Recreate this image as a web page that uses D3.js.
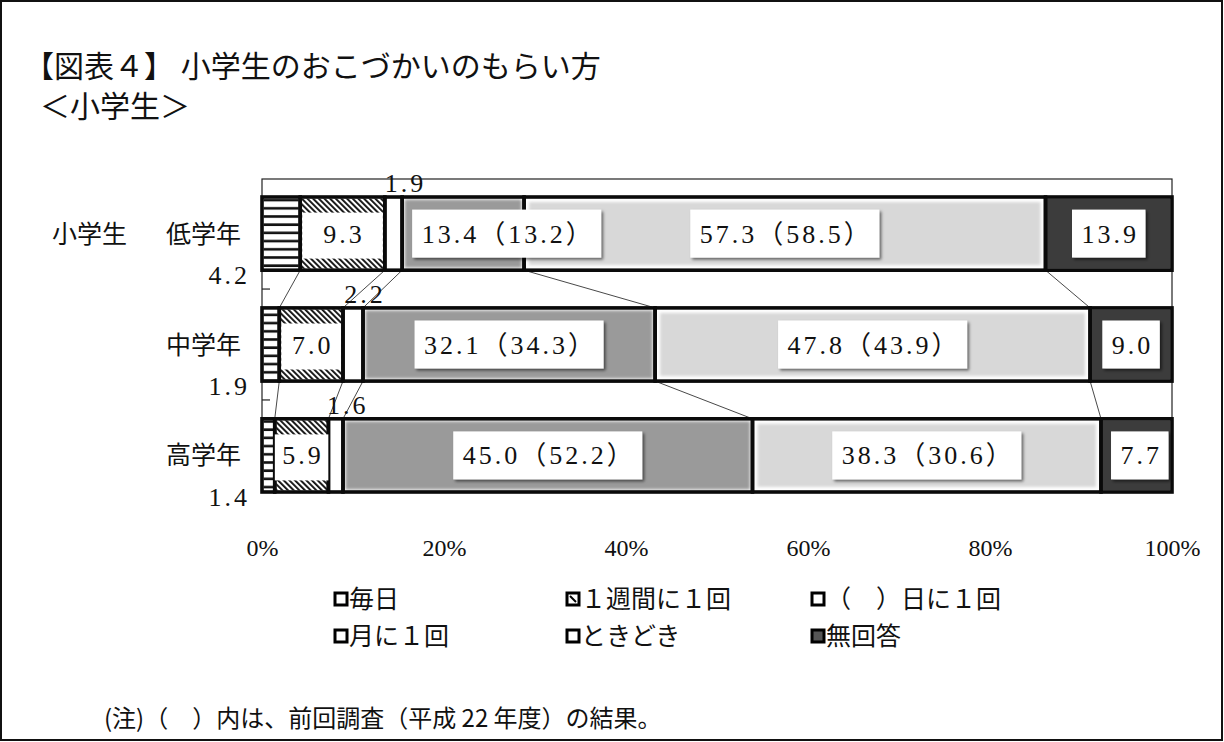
<!DOCTYPE html>
<html><head><meta charset="utf-8">
<script src="https://cdn.jsdelivr.net/npm/d3@7"></script>
<style>body{margin:0;background:#fff}</style>
</head><body><svg id="c" width="1224" height="742"></svg>
<script>
// ---- data ----
const categories = ["低学年", "中学年", "高学年"];
const seriesNames = ["毎日", "１週間に１回", "（　）日に１回", "月に１回", "ときどき", "無回答"];
const daily = [4.2, 1.9, 1.4];
const weekly = [9.3, 7.0, 5.9];
const everyFewDays = [1.9, 2.2, 1.6];
const monthly = [13.4, 32.1, 45.0];
const sometimes = [57.3, 47.8, 38.3];
const noAnswer = [13.9, 9.0, 7.7];
const monthlyPrev = [13.2, 34.3, 52.2];
const sometimesPrev = [58.5, 43.9, 30.6];
const xTicks = [0, 20, 40, 60, 80, 100];
const titleText = "【図表４】 小学生のおこづかいのもらい方";
const subtitleText = "＜小学生＞";
const groupLabel = "小学生";
const noteText = "(注)（　）内は、前回調査（平成 22 年度）の結果。";

const SERIF = "'Liberation Serif','Noto Sans CJK JP',serif";
const JP = "'Noto Sans CJK JP','Noto Sans',sans-serif";

const svg = d3.select("#c");
const fmt = d3.format(".1f");

const x = d3.scaleLinear().domain([0, 100]).range([262, 1172]);
const y = d3.scaleBand().domain(categories).range([197, 492]).paddingInner(0.34);
const bw = y.bandwidth();

// defs
const defs = svg.append("defs");
const hs = defs.append("pattern").attr("id", "hs").attr("patternUnits", "userSpaceOnUse")
  .attr("width", 8).attr("height", 8.2);
hs.append("rect").attr("width", 8).attr("height", 8.2).attr("fill", "#fff");
hs.append("rect").attr("y", 2).attr("width", 8).attr("height", 2.6).attr("fill", "#111");
const hatch = defs.append("pattern").attr("id", "hatch").attr("patternUnits", "userSpaceOnUse")
  .attr("width", 4).attr("height", 4).attr("patternTransform", "rotate(-45)");
hatch.append("rect").attr("width", 4).attr("height", 4).attr("fill", "#fff");
hatch.append("rect").attr("width", 1.9).attr("height", 4).attr("fill", "#111");
const blur = defs.append("filter").attr("id", "blur").attr("x", "-5%").attr("y", "-10%").attr("width", "110%").attr("height", "120%");
blur.append("feGaussianBlur").attr("stdDeviation", 1.6);
const shadow = defs.append("filter").attr("id", "shadow").attr("x", "-10%").attr("y", "-20%").attr("width", "130%").attr("height", "150%");
shadow.append("feDropShadow").attr("dx", 2).attr("dy", 2).attr("stdDeviation", 1.6)
  .attr("flood-color", "#000").attr("flood-opacity", 0.55);

// outer frame
svg.append("rect").attr("x", 1).attr("y", 1).attr("width", 1221).attr("height", 739)
  .attr("fill", "#fff").attr("stroke", "#111").attr("stroke-width", 2);

// titles
svg.append("text").attr("x", 24).attr("y", 77).attr("font-family", JP).attr("font-size", 30)
  .attr("fill", "#111").text(titleText);
svg.append("text").attr("x", 40).attr("y", 117).attr("font-family", JP).attr("font-size", 30)
  .attr("fill", "#111").text(subtitleText);

// plot frame
const frameTop = 179;
svg.append("rect").attr("x", x(0)).attr("y", frameTop).attr("width", x(100) - x(0))
  .attr("height", y.range()[1] - frameTop).attr("fill", "none").attr("stroke", "#222").attr("stroke-width", 1.2);
// inner category ticks
const step = y.step();
for (let i = 0; i < categories.length - 1; i++) {
  const ty = y(categories[i]) + bw + (step - bw) / 2;
  svg.append("line").attr("x1", x(0)).attr("x2", x(0) + 8).attr("y1", ty).attr("y2", ty)
    .attr("stroke", "#222").attr("stroke-width", 1.2);
}

// stacked data
const seriesVals = [daily, weekly, everyFewDays, monthly, sometimes, noAnswer];
const rows = categories.map((c, i) => {
  let acc = 0;
  const segs = seriesVals.map((arr, k) => {
    const s = { k, v: arr[i], x0: acc, x1: acc + arr[i], cat: c, i };
    acc += arr[i];
    return s;
  });
  segs[segs.length - 1].x1 = 100;
  return segs;
});

const fillSpec = [
  { fill: "url(#hs)", inset: 1.5 },
  { fill: "url(#hatch)", inset: 1.5 },
  { fill: "#fff", inset: 1.5 },
  { fill: "#9a9a9a", inset: 2.5, blur: true },
  { fill: "#d8d8d8", inset: 5, blur: true },
  { fill: "#3c3c3c", inset: 1.5 }
];

const gBars = svg.append("g");
rows.forEach(segs => {
  segs.forEach(s => {
    const X0 = x(s.x0), X1 = x(s.x1), Y0 = y(s.cat);
    gBars.append("rect").attr("x", X0).attr("y", Y0).attr("width", X1 - X0).attr("height", bw).attr("fill", "#fff");
    const f = fillSpec[s.k];
    const r = gBars.append("rect").attr("x", X0 + f.inset).attr("y", Y0 + f.inset)
      .attr("width", Math.max(0, X1 - X0 - 2 * f.inset)).attr("height", bw - 2 * f.inset).attr("fill", f.fill);
    if (f.blur) r.attr("filter", "url(#blur)");
  });
});

// connectors
for (let i = 0; i < rows.length - 1; i++) {
  for (let k = 1; k < seriesVals.length; k++) {
    svg.append("line")
      .attr("x1", x(rows[i][k].x0)).attr("y1", y(categories[i]) + bw)
      .attr("x2", x(rows[i + 1][k].x0)).attr("y2", y(categories[i + 1]))
      .attr("stroke", "#333").attr("stroke-width", 0.9);
  }
}

// black borders
rows.forEach(segs => {
  segs.forEach(s => {
    svg.append("rect").attr("x", x(s.x0)).attr("y", y(s.cat)).attr("width", x(s.x1) - x(s.x0))
      .attr("height", bw).attr("fill", "none").attr("stroke", "#0a0a0a").attr("stroke-width", 3.6);
  });
});

// boxed labels
const gLab = svg.append("g");
function boxLabel(s, str, mode) {
  const cy = y(s.cat) + bw / 2;
  const t = gLab.append("text").attr("font-family", SERIF).attr("font-size", 26)
    .attr("letter-spacing", 3).attr("fill", "#111").attr("text-anchor", "middle").text(str);
  const tw = t.node().getComputedTextLength();
  const X0 = x(s.x0), X1 = x(s.x1);
  let w, cx = (X0 + X1) / 2;
  if (mode === "small") {
    w = Math.max(tw + 12, X1 - X0 - 4);
    if (cx - w / 2 < x(0) + 2) cx = x(0) + 2 + w / 2;
  } else {
    w = tw + 16;
    if (cx - w / 2 < X0 + 10) cx = X0 + 10 + w / 2;
  }
  const bh = 48;
  const r = gLab.insert("rect", () => t.node()).attr("x", cx - w / 2).attr("y", cy - bh / 2 + (mode === "small" ? 3 : 0))
    .attr("width", w).attr("height", mode === "small" ? bh - 2 : bh).attr("fill", "#fff");
  if (mode !== "small") r.attr("filter", "url(#shadow)");
  t.attr("x", cx + 1.5).attr("y", cy + 9);
}
rows.forEach((segs, i) => {
  boxLabel(segs[1], fmt(weekly[i]), "small");
  boxLabel(segs[3], `${fmt(monthly[i])}（${fmt(monthlyPrev[i])}）`, "big");
  boxLabel(segs[4], `${fmt(sometimes[i])}（${fmt(sometimesPrev[i])}）`, "big");
  boxLabel(segs[5], fmt(noAnswer[i]), "big");
  // ( )日に1回 values above bar
  const s2 = segs[2];
  svg.append("text").attr("x", x((s2.x0 + s2.x1) / 2) + 12).attr("y", y(s2.cat) - 5)
    .attr("font-family", SERIF).attr("font-size", 26).attr("letter-spacing", 3)
    .attr("text-anchor", "middle").attr("fill", "#111").text(fmt(everyFewDays[i]));
  // daily value at left
  svg.append("text").attr("x", 250).attr("y", y(s2.cat) + bw + 14)
    .attr("font-family", SERIF).attr("font-size", 26).attr("letter-spacing", 3)
    .attr("text-anchor", "end").attr("fill", "#111").text(fmt(daily[i]));
  // category label
  svg.append("text").attr("x", 241).attr("y", y(s2.cat) + bw / 2 + 9)
    .attr("font-family", JP).attr("font-size", 25).attr("text-anchor", "end").attr("fill", "#111")
    .text(categories[i]);
});
svg.append("text").attr("x", 52).attr("y", y(categories[0]) + bw / 2 + 9)
  .attr("font-family", JP).attr("font-size", 25).attr("fill", "#111").text(groupLabel);

// x axis labels
const ax = svg.append("g").attr("transform", "translate(0,556)");
ax.call(d3.axisBottom(x).tickValues(xTicks).tickFormat(d => d + "%").tickSize(0).tickPadding(0));
ax.select(".domain").remove();
ax.selectAll("text").attr("font-family", SERIF).attr("font-size", 24).attr("fill", "#111")
  .attr("dy", 0).attr("y", 0);

// legend
const legCols = [335, 567, 812];
const legRows = [599, 636];
seriesNames.forEach((name, k) => {
  const lx = legCols[k % 3], ly = legRows[Math.floor(k / 3)];
  const g = svg.append("g");
  g.append("rect").attr("x", lx).attr("y", ly - 6).attr("width", 12).attr("height", 12)
    .attr("fill", k === 5 ? "#555" : "#fff").attr("stroke", "#000").attr("stroke-width", 3);
  if (k === 1) g.append("line").attr("x1", lx + 3).attr("y1", ly - 3).attr("x2", lx + 9).attr("y2", ly + 3)
    .attr("stroke", "#000").attr("stroke-width", 2);
  g.append("text").attr("x", lx + 14).attr("y", ly + 9).attr("font-family", JP).attr("font-size", 25)
    .attr("fill", "#111").text(name);
});

// note
svg.append("text").attr("x", 104).attr("y", 727).attr("font-family", JP).attr("font-size", 24)
  .attr("fill", "#111").text(noteText);
</script>
</body></html>
